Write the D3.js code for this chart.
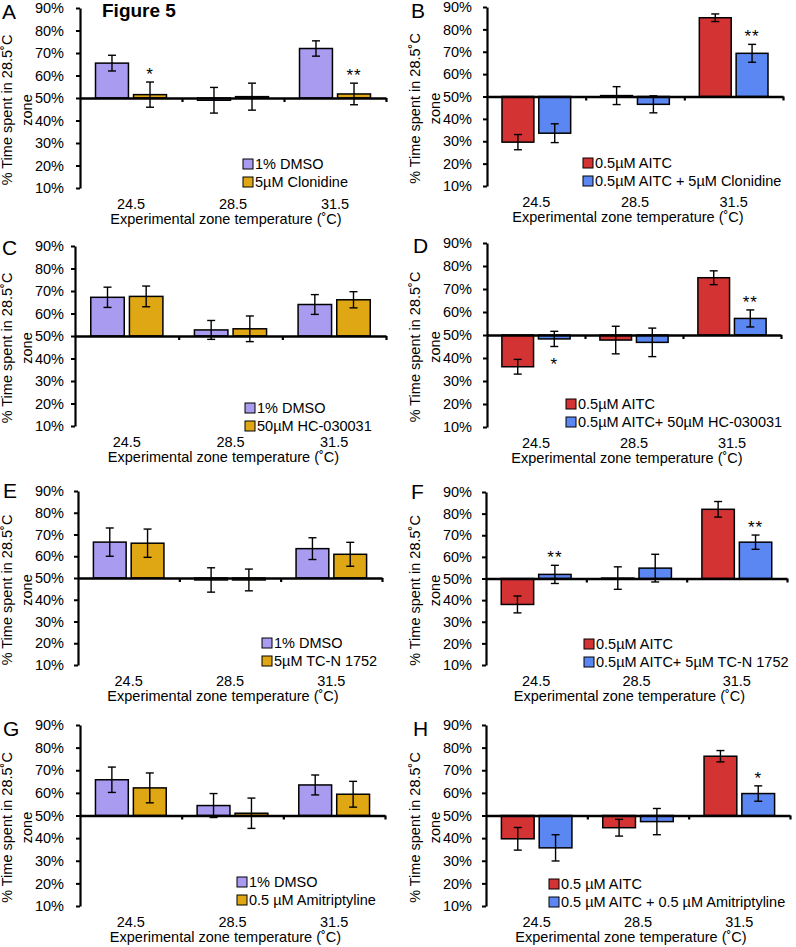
<!DOCTYPE html>
<html>
<head>
<meta charset="utf-8">
<script src="https://cdn.jsdelivr.net/npm/d3@7"></script>
<style>
  body { margin: 0; background: #fff; }
  svg text { font-family: "Liberation Sans", Arial, sans-serif; fill: #000; }
</style>
</head>
<body>
<div id="fig"></div>
<script>
// categories and y ticks shared by all panels
var categories = ["24.5", "28.5", "31.5"];
var yTicks = [10, 20, 30, 40, 50, 60, 70, 80, 90];

// panel A
var aNames = ["1% DMSO", "5\u00b5M Clonidine"];
var aMeans1 = [65.5, 49, 72],     aErr1 = [3.5, 5.7, 3.4];
var aMeans2 = [51.5, 50.6, 51.8], aErr2 = [5.6, 6, 4.8];
var aStars2 = ["*", "", "**"];
// panel B
var bNames = ["0.5\u00b5M AITC", "0.5\u00b5M AITC + 5\u00b5M Clonidine"];
var bMeans1 = [29.6, 50.4, 85.2], bErr1 = [3.4, 4, 1.7];
var bMeans2 = [33.6, 46.5, 69.3], bErr2 = [4.2, 3.8, 4];
var bStars2 = ["", "", "**"];
// panel C
var cNames = ["1% DMSO", "50\u00b5M HC-030031"];
var cMeans1 = [67.2, 52.7, 64],   cErr1 = [4.5, 4.2, 4.4];
var cMeans2 = [67.6, 53.2, 66.1], cErr2 = [4.6, 5.7, 3.6];
var cStars2 = ["", "", ""];
// panel D
var dNames = ["0.5\u00b5M AITC", "0.5\u00b5M AITC+ 50\u00b5M HC-030031"];
var dMeans1 = [36.2, 47.8, 74.9], dErr1 = [3.2, 6, 3];
var dMeans2 = [48.3, 46.8, 57.2], dErr2 = [3.3, 6.2, 3.7];
var dStars2 = ["*", "", "**"];
// panel E
var eNames = ["1% DMSO", "5\u00b5M TC-N 1752"];
var eMeans1 = [66.5, 49.1, 63.5], eErr1 = [6.5, 5.6, 5];
var eMeans2 = [66, 49.1, 60.9],   eErr2 = [6.5, 5, 5.5];
var eStars2 = ["", "", ""];
// panel F
var fNames = ["0.5\u00b5M AITC", "0.5\u00b5M AITC+ 5\u00b5M TC-N 1752"];
var fMeans1 = [38, 50.2, 82],     fErr1 = [3.9, 5.2, 3.6];
var fMeans2 = [51.9, 54.8, 66.8], fErr2 = [4.2, 6.4, 3.3];
var fStars2 = ["**", "", "**"];
// panel G
var gNames = ["1% DMSO", "0.5 \u00b5M Amitriptyline"];
var gMeans1 = [65.8, 54.4, 63.5], gErr1 = [5.6, 5.3, 4.4];
var gMeans2 = [62.2, 51, 59.4],   gErr2 = [6.6, 6.7, 5.7];
var gStars2 = ["", "", ""];
// panel H
var hNames = ["0.5 \u00b5M AITC", "0.5 \u00b5M AITC + 0.5 \u00b5M Amitriptyline"];
var hMeans1 = [39.7, 44.6, 76.2], hErr1 = [5, 3.7, 2.5];
var hMeans2 = [35.7, 47.3, 59.7], hErr2 = [5.8, 5.8, 3.4];
var hStars2 = ["", "", "*"];

var ctrlColors = ["#a99bf0", "#e0a714"];
var aitcColors = ["#d33333", "#5b87f3"];

// panel placement on the page (cx = left edge of the column)
var panels = [
  {id: "A", names: aNames, m1: aMeans1, e1: aErr1, m2: aMeans2, e2: aErr2, st: aStars2, col: ctrlColors,
   cx: 0, ax: 80, top: 8, bot: 188, right: 386, lx: 243, ly: 164, px: 2, py: 19},
  {id: "B", names: bNames, m1: bMeans1, e1: bErr1, m2: bMeans2, e2: bErr2, st: bStars2, col: aitcColors,
   cx: 408, ax: 487, top: 7, bot: 186, right: 783, lx: 583, ly: 163, px: 411, py: 18},
  {id: "C", names: cNames, m1: cMeans1, e1: cErr1, m2: cMeans2, e2: cErr2, st: cStars2, col: ctrlColors,
   cx: 0, ax: 75, top: 246, bot: 426, right: 386, lx: 245, ly: 408, px: 2, py: 255},
  {id: "D", names: dNames, m1: dMeans1, e1: dErr1, m2: dMeans2, e2: dErr2, st: dStars2, col: aitcColors,
   cx: 408, ax: 487, top: 243, bot: 427, right: 781, lx: 566, ly: 404, px: 413, py: 253},
  {id: "E", names: eNames, m1: eMeans1, e1: eErr1, m2: eMeans2, e2: eErr2, st: eStars2, col: ctrlColors,
   cx: 0, ax: 78, top: 491, bot: 665, right: 382, lx: 262, ly: 643, px: 3, py: 498},
  {id: "F", names: fNames, m1: fMeans1, e1: fErr1, m2: fMeans2, e2: fErr2, st: fStars2, col: aitcColors,
   cx: 408, ax: 486, top: 492, bot: 665, right: 787, lx: 584, ly: 644, px: 411, py: 499},
  {id: "G", names: gNames, m1: gMeans1, e1: gErr1, m2: gMeans2, e2: gErr2, st: gStars2, col: ctrlColors,
   cx: 0, ax: 80, top: 725, bot: 906, right: 385, lx: 237, ly: 882, px: 3, py: 736},
  {id: "H", names: hNames, m1: hMeans1, e1: hErr1, m2: hMeans2, e2: hErr2, st: hStars2, col: aitcColors,
   cx: 408, ax: 486, top: 725, bot: 906, right: 790, lx: 549, ly: 884, px: 413, py: 736}
];

var svg = d3.select("#fig").append("svg")
    .attr("width", 796)
    .attr("height", 947);

var fs = "14.5px";

panels.forEach(function(p) {
  var g = svg.append("g");

  var y = d3.scaleLinear().domain([10, 90]).range([p.bot, p.top]);
  var x = d3.scaleBand().domain(categories).range([p.ax, p.right]);
  var cw = x.bandwidth();
  var x1 = d3.scaleBand().domain([0, 1])
    .range([0.152 * cw, 0.848 * cw]).paddingInner(0.134);

  var rows = [];
  categories.forEach(function(c, i) {
    rows.push({cat: c, s: 0, v: p.m1[i], e: p.e1[i], star: ""});
    rows.push({cat: c, s: 1, v: p.m2[i], e: p.e2[i], star: p.st[i]});
  });

  // bars grow from the 50% line
  g.selectAll("rect.bar").data(rows).enter().append("rect")
    .attr("class", "bar")
    .attr("x", function(d) { return x(d.cat) + x1(d.s); })
    .attr("y", function(d) { return y(Math.max(d.v, 50)); })
    .attr("width", x1.bandwidth())
    .attr("height", function(d) { return Math.abs(y(d.v) - y(50)); })
    .style("fill", function(d) { return p.col[d.s]; })
    .style("stroke", "#000")
    .style("stroke-width", 1.5);

  // y axis, labels end at the same x in each column
  var yAxis = d3.axisLeft(y).tickValues(yTicks)
    .tickFormat(function(d) { return d + "%"; })
    .tickSize(4).tickSizeOuter(0).tickPadding(p.ax - (p.cx + 64) - 4);
  var ya = g.append("g").attr("transform", "translate(" + p.ax + ",0)").call(yAxis);
  ya.select(".domain").attr("stroke-width", 2.2);
  ya.selectAll(".tick line").attr("stroke-width", 2);
  ya.selectAll("text").style("font-size", fs).style("font-family", "'Liberation Sans', Arial, sans-serif");

  // x axis line at 50%
  var xl = d3.scaleLinear().domain([0, 3]).range([p.ax, p.right]);
  var xa = g.append("g").attr("transform", "translate(0," + y(50) + ")")
    .call(d3.axisBottom(xl).tickValues([1, 2, 3]).tickFormat("").tickSize(4).tickSizeOuter(0));
  xa.select(".domain").attr("stroke-width", 2.4);
  xa.selectAll(".tick line").attr("stroke-width", 2.2);

  // error bars
  var eb = g.selectAll("g.err").data(rows).enter().append("g").attr("class", "err")
    .attr("transform", function(d) {
      return "translate(" + (x(d.cat) + x1(d.s) + x1.bandwidth() / 2) + ",0)";
    });
  eb.append("line")
    .attr("y1", function(d) { return y(d.v + d.e); })
    .attr("y2", function(d) { return y(d.v - d.e); });
  eb.append("line").attr("x1", -4).attr("x2", 4)
    .attr("y1", function(d) { return y(d.v + d.e); })
    .attr("y2", function(d) { return y(d.v + d.e); });
  eb.append("line").attr("x1", -4).attr("x2", 4)
    .attr("y1", function(d) { return y(d.v - d.e); })
    .attr("y2", function(d) { return y(d.v - d.e); });
  eb.selectAll("line").style("stroke", "#000").style("stroke-width", 1.4);

  // significance stars
  eb.filter(function(d) { return d.star; }).append("text")
    .attr("text-anchor", "middle")
    .attr("y", function(d) {
      return d.v >= 50 ? y(d.v + d.e) - 2 : y(d.v - d.e) + 23;
    })
    .style("font-size", "17px")
    .style("letter-spacing", "1px")
    .text(function(d) { return d.star; });

  // category labels
  g.selectAll("text.cat").data(categories).enter().append("text")
    .attr("class", "cat")
    .attr("x", function(d) { return x(d) + cw / 2; })
    .attr("y", p.bot + 21)
    .attr("text-anchor", "middle")
    .style("font-size", fs)
    .text(function(d) { return d; });

  g.append("text")
    .attr("x", (p.ax + p.right) / 2 - 7)
    .attr("y", p.bot + 36)
    .attr("text-anchor", "middle")
    .style("font-size", fs)
    .text("Experimental zone temperature (\u02daC)");

  // y title, two lines
  var midY = (p.top + p.bot) / 2 + 12;
  g.append("text")
    .attr("transform", "translate(" + (p.cx + 12) + "," + midY + ") rotate(-90)")
    .attr("text-anchor", "middle")
    .style("font-size", fs)
    .text("% Time spent in 28.5\u02daC");
  g.append("text")
    .attr("transform", "translate(" + (p.cx + 32) + "," + midY + ") rotate(-90)")
    .attr("text-anchor", "middle")
    .style("font-size", fs)
    .text("zone");

  // legend
  var lg = g.selectAll("g.leg").data(p.names).enter().append("g").attr("class", "leg")
    .attr("transform", function(d, i) { return "translate(" + p.lx + "," + (p.ly + i * 18) + ")"; });
  lg.append("rect").attr("x", 0).attr("y", -5).attr("width", 10).attr("height", 10)
    .style("fill", function(d, i) { return p.col[i]; })
    .style("stroke", "#000").style("stroke-width", 1);
  lg.append("text").attr("x", 12).attr("y", 5)
    .style("font-size", fs)
    .text(function(d) { return d; });

  // panel letter
  g.append("text")
    .attr("x", p.px).attr("y", p.py)
    .style("font-size", "21px")
    .text(p.id);
});

svg.append("text")
  .attr("x", 102).attr("y", 17)
  .style("font-size", "19px")
  .style("font-weight", "bold")
  .text("Figure 5");
</script>
</body>
</html>
